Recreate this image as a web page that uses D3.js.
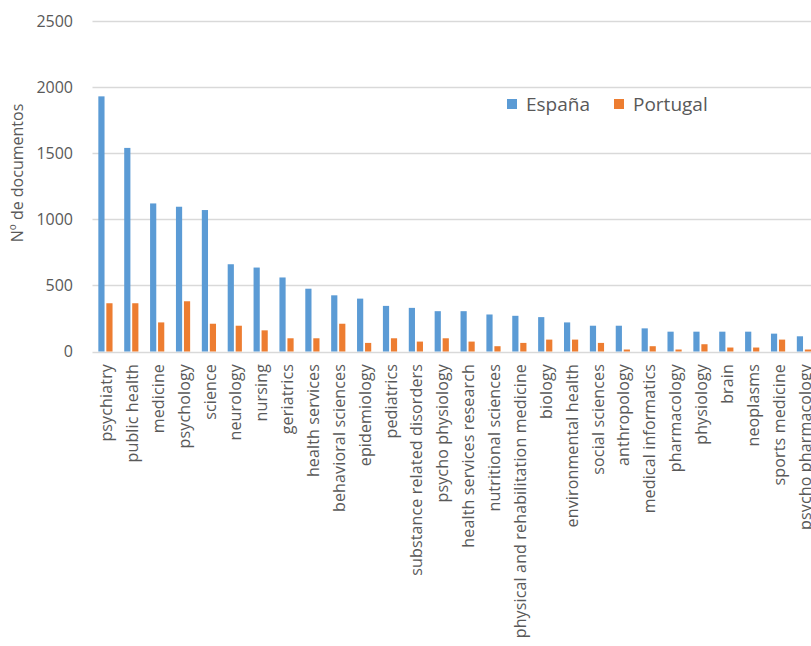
<!DOCTYPE html>
<html>
<head>
<meta charset="utf-8">
<script src="https://cdn.jsdelivr.net/npm/d3@7"></script>
<style>
  body { margin: 0; background: #fff; }
  svg { display: block; }
  text { font-family: "Open Sans", "DejaVu Sans", sans-serif; fill: #595959; }
</style>
</head>
<body>
<div class="chart"></div>
<script>
// Data
var categories = ["psychiatry", "public health", "medicine", "psychology", "science",
  "neurology", "nursing", "geriatrics", "health services", "behavioral sciences",
  "epidemiology", "pediatrics", "substance related disorders", "psycho physiology",
  "health services research", "nutritional sciences", "physical and rehabilitation medicine",
  "biology", "environmental health", "social sciences", "anthropology", "medical informatics",
  "pharmacology", "physiology", "brain", "neoplasms", "sports medicine", "psycho pharmacology"];
var espana = [1930, 1540, 1120, 1095, 1070, 660, 635, 560, 475, 425,
  400, 345, 330, 305, 305, 280, 270, 260, 220, 195, 195, 175,
  150, 150, 150, 150, 135, 115];
var portugal = [365, 365, 220, 380, 210, 195, 160, 100, 100, 210,
  65, 100, 75, 100, 75, 40, 65, 90, 90, 65, 15, 40,
  15, 55, 30, 30, 90, 15];
var seriesNames = ["España", "Portugal"];
var seriesColors = ["#5B9BD5", "#ED7D31"];
var yTicks = [0, 500, 1000, 1500, 2000, 2500];

var svgWidth = 811, svgHeight = 646;
var plotLeft = 92.5, step = 25.87;
var plotRight = plotLeft + step * categories.length;

var svg = d3.select(".chart")
  .append("svg")
  .attr("width", svgWidth)
  .attr("height", svgHeight);

// Scales
var x0 = d3.scaleBand()
  .domain(categories)
  .range([plotLeft, plotRight])
  .padding(0);
var x1 = d3.scaleBand()
  .domain(seriesNames)
  .range([0, x0.bandwidth()])
  .paddingInner(0.225)
  .paddingOuter(0.73);
var y = d3.scaleLinear()
  .domain([0, 2500])
  .range([351.5, 21]);

// Gridlines
svg.append("g")
  .selectAll("line")
  .data(yTicks)
  .enter()
  .append("line")
  .attr("x1", plotLeft)
  .attr("x2", svgWidth)
  .attr("y1", d => Math.round(y(d)) + 0.5)
  .attr("y2", d => Math.round(y(d)) + 0.5)
  .attr("stroke", "#D9D9D9")
  .attr("stroke-width", 1.3);

// Y tick labels
var leftAxis = d3.axisLeft(y).tickValues(yTicks).tickFormat(d3.format("d")).tickSize(0).tickPadding(0);
var yAxisG = svg.append("g")
  .attr("transform", "translate(73, 0)")
  .call(leftAxis);
yAxisG.select(".domain").remove();
yAxisG.selectAll("text")
  .style("font-size", "16px")
  .style("font-family", "'Open Sans', sans-serif")
  .attr("fill", "#595959");

// Axis title
svg.append("text")
  .attr("transform", "translate(23, 173) rotate(-90)")
  .attr("text-anchor", "middle")
  .style("font-size", "16px")
  .text("Nº de documentos");

// Bars
var groups = svg.append("g")
  .selectAll("g")
  .data(categories)
  .enter()
  .append("g")
  .attr("transform", d => `translate(${x0(d)}, 0)`);

groups.selectAll("rect")
  .data((d, i) => [espana[i], portugal[i]].map((v, j) => ({ s: seriesNames[j], v: v, c: seriesColors[j] })))
  .enter()
  .append("rect")
  .attr("x", d => x1(d.s))
  .attr("width", x1.bandwidth())
  .attr("y", d => y(d.v))
  .attr("height", d => y(0) - y(d.v))
  .attr("fill", d => d.c);

// Category labels
var bottomAxis = d3.axisBottom(x0).tickSize(0).tickPadding(0);
var xAxisG = svg.append("g")
  .attr("transform", "translate(1, 364)")
  .call(bottomAxis);
xAxisG.select(".domain").remove();
xAxisG.selectAll("text")
  .attr("transform", "rotate(-90)")
  .attr("text-anchor", "end")
  .attr("x", 0)
  .attr("y", 0)
  .attr("dy", "0.35em")
  .attr("dx", 0)
  .style("font-size", "16px")
  .style("letter-spacing", "0.15px")
  .style("font-family", "'Open Sans', sans-serif")
  .attr("fill", "#595959");

// Legend
var legendX = [507, 614];
var legend = svg.append("g")
  .selectAll("g")
  .data(seriesNames)
  .enter()
  .append("g")
  .attr("transform", (d, i) => `translate(${legendX[i]}, 99)`);
legend.append("rect")
  .attr("width", 10)
  .attr("height", 10)
  .attr("fill", (d, i) => seriesColors[i]);
legend.append("text")
  .attr("x", 19)
  .attr("y", 12)
  .style("font-size", "19px")
  .text(d => d);
</script>
</body>
</html>
